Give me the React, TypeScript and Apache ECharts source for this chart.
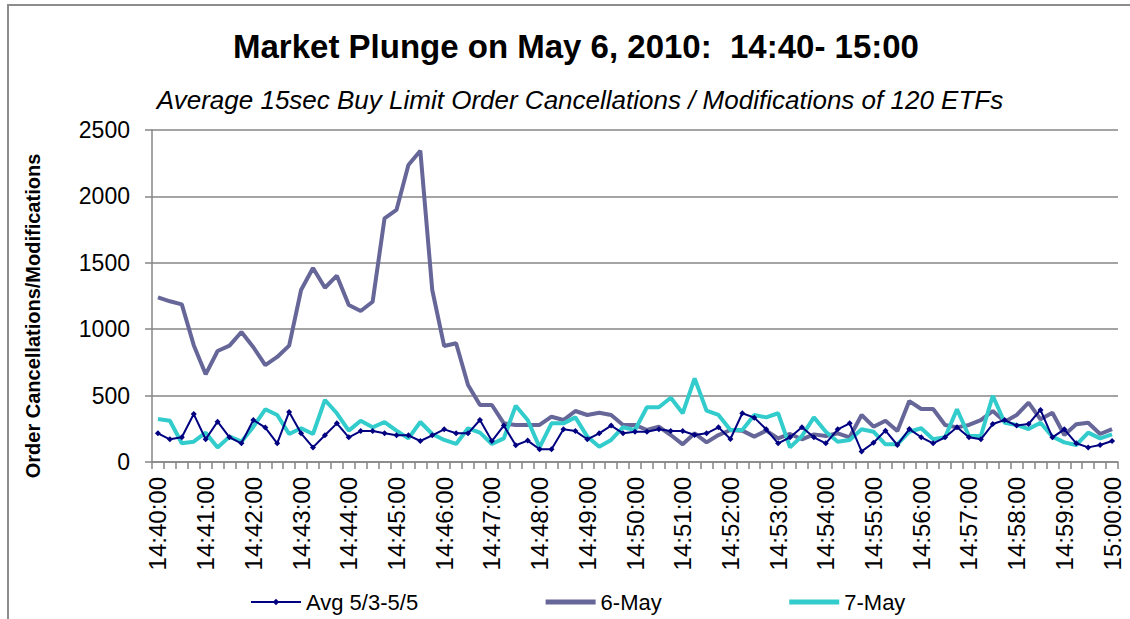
import React, { useEffect, useRef } from "react";
import * as echarts from "echarts";

const categories = [
  "14:40:00","14:40:15","14:40:30","14:40:45","14:41:00","14:41:15","14:41:30","14:41:45",
  "14:42:00","14:42:15","14:42:30","14:42:45","14:43:00","14:43:15","14:43:30","14:43:45",
  "14:44:00","14:44:15","14:44:30","14:44:45","14:45:00","14:45:15","14:45:30","14:45:45",
  "14:46:00","14:46:15","14:46:30","14:46:45","14:47:00","14:47:15","14:47:30","14:47:45",
  "14:48:00","14:48:15","14:48:30","14:48:45","14:49:00","14:49:15","14:49:30","14:49:45",
  "14:50:00","14:50:15","14:50:30","14:50:45","14:51:00","14:51:15","14:51:30","14:51:45",
  "14:52:00","14:52:15","14:52:30","14:52:45","14:53:00","14:53:15","14:53:30","14:53:45",
  "14:54:00","14:54:15","14:54:30","14:54:45","14:55:00","14:55:15","14:55:30","14:55:45",
  "14:56:00","14:56:15","14:56:30","14:56:45","14:57:00","14:57:15","14:57:30","14:57:45",
  "14:58:00","14:58:15","14:58:30","14:58:45","14:59:00","14:59:15","14:59:30","14:59:45",
  "15:00:00"
];

const avgMay3to5 = [
  216,171,186,361,171,304,186,141,316,259,141,377,216,110,201,291,186,233,233,216,
  201,201,158,201,246,216,216,316,158,274,126,161,96,96,246,233,171,216,274,216,
  228,228,246,233,233,203,216,261,173,367,334,246,141,186,261,186,141,246,291,80,
  145,236,128,248,186,141,186,261,186,171,286,316,274,286,392,186,246,141,110,128,158
];

const may6 = [
  1240,1210,1187,880,660,836,876,979,864,730,791,876,1295,1461,1312,1403,1182,1137,1207,1835,
  1898,2236,2344,1295,873,894,580,429,429,291,279,279,279,341,316,384,354,371,354,279,
  279,241,266,203,133,216,148,203,241,236,191,236,178,211,171,208,196,216,186,354,
  266,311,233,459,399,399,279,261,279,316,384,304,354,447,321,371,203,284,296,211,248
];

const may7 = [
  324,311,141,153,221,110,191,153,266,397,354,211,254,211,467,367,236,311,261,301,
  236,178,301,211,166,136,254,221,136,178,424,316,110,291,291,336,191,115,166,262,
  241,412,412,484,367,630,386,354,241,241,354,336,367,110,196,336,228,153,166,246,
  228,133,133,228,254,171,186,397,196,196,499,296,279,248,296,191,148,128,221,178,208
];

const yTicks = { min: 0, max: 2500, interval: 500 };

const titleText = "Market Plunge on May 6, 2010:  14:40- 15:00";
const subtitleText = "Average 15sec Buy Limit Order Cancellations / Modifications of 120 ETFs";
const yAxisTitle = "Order Cancellations/Modifications";
const seriesNames = ["Avg 5/3-5/5", "6-May", "7-May"];

const FONT = "'Liberation Sans', Arial, sans-serif";

export default function App() {
  const ref = useRef<HTMLDivElement>(null);
  useEffect(() => {
    if (!ref.current) return;
    const chart = echarts.init(ref.current, undefined, { renderer: "svg" });
    chart.setOption({
      animation: false,
      backgroundColor: "#ffffff",
      title: [
        {
          text: titleText,
          left: 571,
          top: 25,
          textAlign: "center",
          textStyle: { fontFamily: FONT, fontSize: 33, fontWeight: "bold", color: "#000" },
        },
        {
          text: subtitleText,
          left: 575,
          top: 82,
          textAlign: "center",
          textStyle: { fontFamily: FONT, fontSize: 26, fontStyle: "italic", fontWeight: "normal", color: "#000" },
        },
      ],
      graphic: [
        {
          type: "rect",
          shape: { x: 8, y: 5, width: 1200, height: 700 },
          style: { fill: "none", stroke: "#8c8c8c", lineWidth: 2 },
          silent: true,
        },
        {
          type: "text",
          x: 33,
          y: 316,
          rotation: Math.PI / 2,
          style: {
            text: yAxisTitle,
            fontFamily: FONT,
            fontSize: 20,
            fontWeight: "bold",
            fill: "#000",
            align: "center",
            verticalAlign: "middle",
          },
        },
      ],
      legend: {
        left: 245,
        top: 586,
        itemWidth: 50,
        itemHeight: 8,
        itemGap: 125,
        textStyle: { fontFamily: FONT, fontSize: 22, color: "#000" },
        data: [
          { name: seriesNames[0], lineStyle: { width: 2 } },
          { name: seriesNames[1], itemStyle: { opacity: 0 }, lineStyle: { width: 5 } },
          { name: seriesNames[2], itemStyle: { opacity: 0 }, lineStyle: { width: 5 } },
        ],
      },
      grid: { left: 152, top: 130, right: 12, bottom: 157, containLabel: false },
      xAxis: {
        type: "category",
        data: categories,
        boundaryGap: true,
        axisLine: { lineStyle: { color: "#868686", width: 1.5 } },
        axisTick: { show: true, interval: 0, length: 7, lineStyle: { color: "#868686", width: 1.5 } },
        axisLabel: {
          interval: 3,
          rotate: 90,
          margin: 15,
          fontFamily: FONT,
          fontSize: 24,
          color: "#000",
        },
        splitLine: { show: false },
      },
      yAxis: {
        type: "value",
        min: yTicks.min,
        max: yTicks.max,
        interval: yTicks.interval,
        axisLine: { show: true, lineStyle: { color: "#868686", width: 1.5 } },
        axisTick: { show: true, length: 7, lineStyle: { color: "#868686", width: 1.5 } },
        axisLabel: {
          margin: 22,
          fontFamily: FONT,
          fontSize: 23,
          color: "#000",
          formatter: (v: number) => String(v),
        },
        splitLine: { show: true, lineStyle: { color: "#868686", width: 1.5 } },
      },
      series: [
        {
          name: seriesNames[0],
          type: "line",
          data: avgMay3to5,
          symbol: "diamond",
          symbolSize: 6,
          showSymbol: true,
          itemStyle: { color: "#000080" },
          lineStyle: { color: "#000080", width: 2 },
          z: 3,
        },
        {
          name: seriesNames[1],
          type: "line",
          data: may6,
          symbol: "none",
          itemStyle: { color: "#666699" },
          lineStyle: { color: "#666699", width: 4 },
          z: 2,
        },
        {
          name: seriesNames[2],
          type: "line",
          data: may7,
          symbol: "none",
          itemStyle: { color: "#33CCCC" },
          lineStyle: { color: "#33CCCC", width: 4 },
          z: 2,
        },
      ],
    });
    return () => chart.dispose();
  }, []);
  return (
    <div
      ref={ref}
      style={{ position: "absolute", left: 0, top: 0, width: 1130, height: 619 }}
    />
  );
}
